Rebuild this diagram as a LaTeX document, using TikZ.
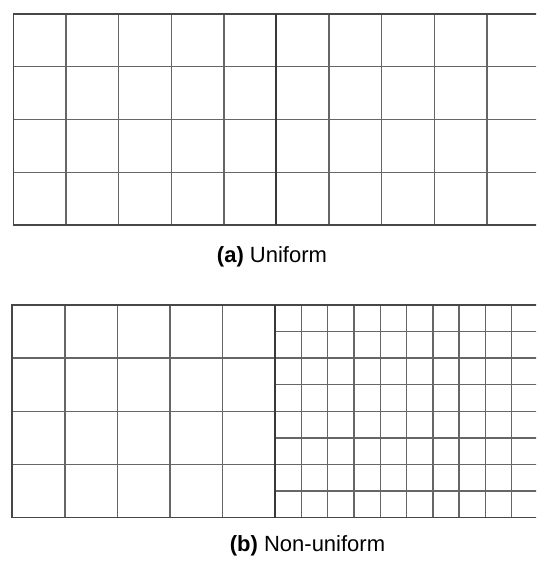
\documentclass[tikz,border=0pt]{standalone}
\usepackage{fontspec}
\setmainfont{Liberation Sans}
\tikzset{
  gridline/.style={line width=1.4pt,draw=black!60},
  midline/.style={line width=2.8pt,draw=black!78},
  frameline/.style={line width=1.7pt,draw=black!72},
  caption/.style={font=\fontsize{22}{26}\selectfont,anchor=base}
}
\begin{document}
\begin{tikzpicture}[x=1pt,y=-1pt]
  \useasboundingbox (0,0) rectangle (536,562);
  \path
    (13.5,14) coordinate (A0)
    (276,14) coordinate (AM)
    (13.5,225) coordinate (A1)
    (12.3,305) coordinate (B0)
    (275,305) coordinate (BM)
    (12.3,517.5) coordinate (B1)
    ;
  \begin{scope}
    \clip (0,0) rectangle (536,562);
    % (a) uniform mesh
    \foreach \i in {1,...,9}\draw[gridline] (13.5+52.6*\i,14)--(13.5+52.6*\i,225);
    \foreach \j in {1,2,3}\draw[gridline] (13.5,14+52.75*\j)--(540,14+52.75*\j);
    \draw[frameline] (540,14)--(A0)--(A1)--(540,225);
    \draw[midline] (AM)--(276,225);
    % (b) non-uniform mesh
    \foreach \i in {1,...,4}\draw[gridline] (12.3+52.6*\i,305)--(12.3+52.6*\i,517.5);
    \foreach \i in {1,...,10}\draw[gridline] (275+26.3*\i,305)--(275+26.3*\i,517.5);
    \foreach \j in {1,2,3}\draw[gridline] (12.3,305+53.1*\j)--(275,305+53.1*\j);
    \foreach \j in {1,...,7}\draw[gridline] (275,305+26.56*\j)--(540,305+26.56*\j);
    \draw[frameline] (540,305)--(B0)--(B1)--(540,517.5);
    \draw[midline] (BM)--(275,517.5);
  \end{scope}
  \node[caption] (capa) at (272,262.5) {\textbf{(a)} Uniform};
  \node[caption] (capb) at (307.5,551.5) {\textbf{(b)} Non-uniform};
\end{tikzpicture}
\end{document}
